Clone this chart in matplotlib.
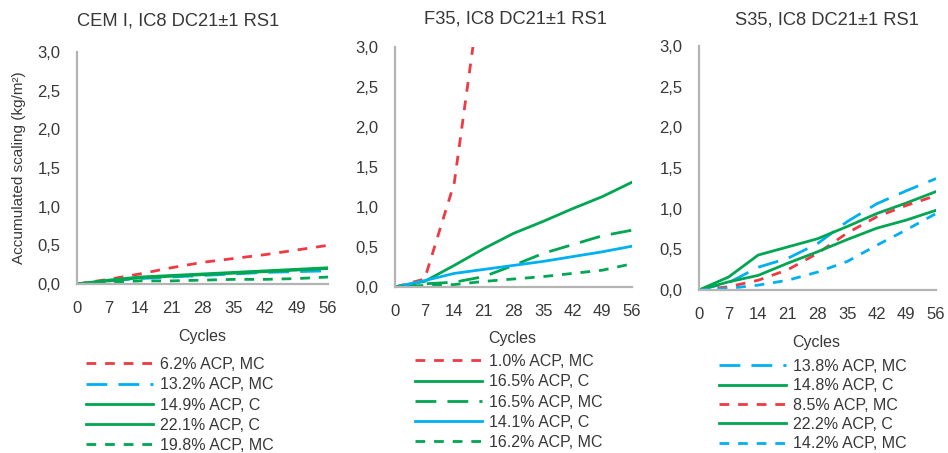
import numpy as np
import matplotlib
matplotlib.use("Agg")
import matplotlib.pyplot as plt
from matplotlib.ticker import FuncFormatter

plt.rcParams['font.family'] = ['Liberation Sans', 'DejaVu Sans']

# data
cycles = [0, 7, 14, 21, 28, 35, 42, 49, 56]

titles = ['CEM I, IC8 DC21±1 RS1', 'F35, IC8 DC21±1 RS1', 'S35, IC8 DC21±1 RS1']

cem_labels = ['6.2% ACP, MC', '13.2% ACP, MC', '14.9% ACP, C', '22.1% ACP, C', '19.8% ACP, MC']
cem_red_62 = [0, 0.06, 0.13, 0.21, 0.28, 0.33, 0.38, 0.44, 0.50]
cem_blue_132 = [0, 0.04, 0.07, 0.09, 0.11, 0.13, 0.15, 0.16, 0.17]
cem_green_149 = [0, 0.04, 0.08, 0.10, 0.12, 0.14, 0.16, 0.18, 0.20]
cem_green_221 = [0, 0.05, 0.09, 0.11, 0.13, 0.15, 0.17, 0.19, 0.21]
cem_green_198 = [0, 0.02, 0.04, 0.04, 0.05, 0.06, 0.06, 0.07, 0.09]

f35_labels = ['1.0% ACP, MC', '16.5% ACP, C', '16.5% ACP, MC', '14.1% ACP, C', '16.2% ACP, MC']
f35_red_10 = [0, 0.10, 1.30, 4.00, np.nan, np.nan, np.nan, np.nan, np.nan]
f35_green_165c = [0, 0.07, 0.27, 0.48, 0.67, 0.82, 0.98, 1.13, 1.31]
f35_green_165mc = [0, 0.04, 0.06, 0.13, 0.27, 0.42, 0.53, 0.64, 0.71]
f35_blue_141 = [0, 0.08, 0.17, 0.22, 0.27, 0.32, 0.38, 0.44, 0.51]
f35_green_162 = [0, 0.02, 0.03, 0.07, 0.10, 0.13, 0.17, 0.21, 0.29]

s35_labels = ['13.8% ACP, MC', '14.8% ACP, C', '8.5% ACP, MC', '22.2% ACP, C', '14.2% ACP, MC']
s35_blue_138 = [0, 0.09, 0.28, 0.39, 0.57, 0.84, 1.06, 1.22, 1.37]
s35_green_148 = [0, 0.16, 0.43, 0.53, 0.63, 0.78, 0.94, 1.07, 1.21]
s35_red_85 = [0, 0.04, 0.12, 0.25, 0.45, 0.70, 0.90, 1.04, 1.16]
s35_green_222 = [0, 0.10, 0.18, 0.33, 0.47, 0.62, 0.76, 0.86, 0.98]
s35_blue_142 = [0, 0.02, 0.06, 0.12, 0.22, 0.35, 0.55, 0.74, 0.94]

RED = '#ee3a43'
BLUE = '#00b0f0'
GREEN = '#00a651'
TXT = '#383838'
AXC = '#b4b4b4'

short = (0, (3.5, 3.2))
long_ = (0, (7.5, 4.0))
solid = '-'

panels = [
    (cem_labels, [cem_red_62, cem_blue_132, cem_green_149, cem_green_221, cem_green_198],
     [RED, BLUE, GREEN, GREEN, GREEN], [short, long_, solid, solid, short]),
    (f35_labels, [f35_red_10, f35_green_165c, f35_green_165mc, f35_blue_141, f35_green_162],
     [RED, GREEN, GREEN, BLUE, GREEN], [short, solid, long_, solid, short]),
    (s35_labels, [s35_blue_138, s35_green_148, s35_red_85, s35_green_222, s35_blue_142],
     [BLUE, GREEN, RED, GREEN, BLUE], [long_, solid, short, solid, short]),
]

W, H = 948, 453
# axes boxes in pixels: left, right, top, bottom
boxes = [(77, 328, 52, 284), (395, 632, 47, 287), (699, 936, 46, 290)]
title_pos = [(178, 21), (515, 19), (827, 20)]
cycles_pos = [(202, 337), (512, 339), (816, 342)]
legend_pos = [(86, 357), (415, 354), (719, 359)]
legend_gap = [0.33, 0.33, 0.27]

fig = plt.figure(figsize=(W / 100, H / 100), dpi=100)

for i, (labels, series, colors, styles) in enumerate(panels):
    l, r, t, b = boxes[i]
    ax = fig.add_axes([l / W, 1 - b / H, (r - l) / W, (b - t) / H])
    handles = []
    for y, c, ls, lab in zip(series, colors, styles, labels):
        h, = ax.plot(cycles, y, color=c, linestyle=ls, linewidth=2.0, label=lab)
        handles.append(h)
    ax.set_xlim(0, 56)
    ax.set_ylim(0, 3.0)
    ax.set_xticks(cycles)
    ax.set_yticks(np.arange(0, 3.01, 0.5))
    ax.yaxis.set_major_formatter(FuncFormatter(lambda v, p: f'{v:.1f}'.replace('.', ',')))
    ax.tick_params(length=0, labelsize=12, colors=TXT)
    ax.tick_params(axis='y', pad=12)
    ax.tick_params(axis='x', pad=12)
    for s in ['top', 'right']:
        ax.spines[s].set_visible(False)
    for s in ['left', 'bottom']:
        ax.spines[s].set_color(AXC)
        ax.spines[s].set_linewidth(1.6)
    ax.patch.set_alpha(0)

    tx, ty = title_pos[i]
    fig.text(tx / W, 1 - ty / H, titles[i], ha='center', va='center', fontsize=13.2, color=TXT)
    cx, cy = cycles_pos[i]
    fig.text(cx / W, 1 - cy / H, 'Cycles', ha='center', va='center', fontsize=11.5, color=TXT)
    lx, ly = legend_pos[i]
    leg = ax.legend(handles=handles, loc='upper left', bbox_to_anchor=(lx / W, 1 - ly / H),
                    bbox_transform=fig.transFigure, frameon=False, borderpad=0, borderaxespad=0,
                    handlelength=4.2, handletextpad=0.45, labelspacing=legend_gap[i], fontsize=11.5)
    for txt in leg.get_texts():
        txt.set_color(TXT)
    if i == 0:
        ax.set_ylabel('Accumulated scaling (kg/m²)', fontsize=11, color=TXT, labelpad=8)

fig.savefig('out.png', dpi=100)
